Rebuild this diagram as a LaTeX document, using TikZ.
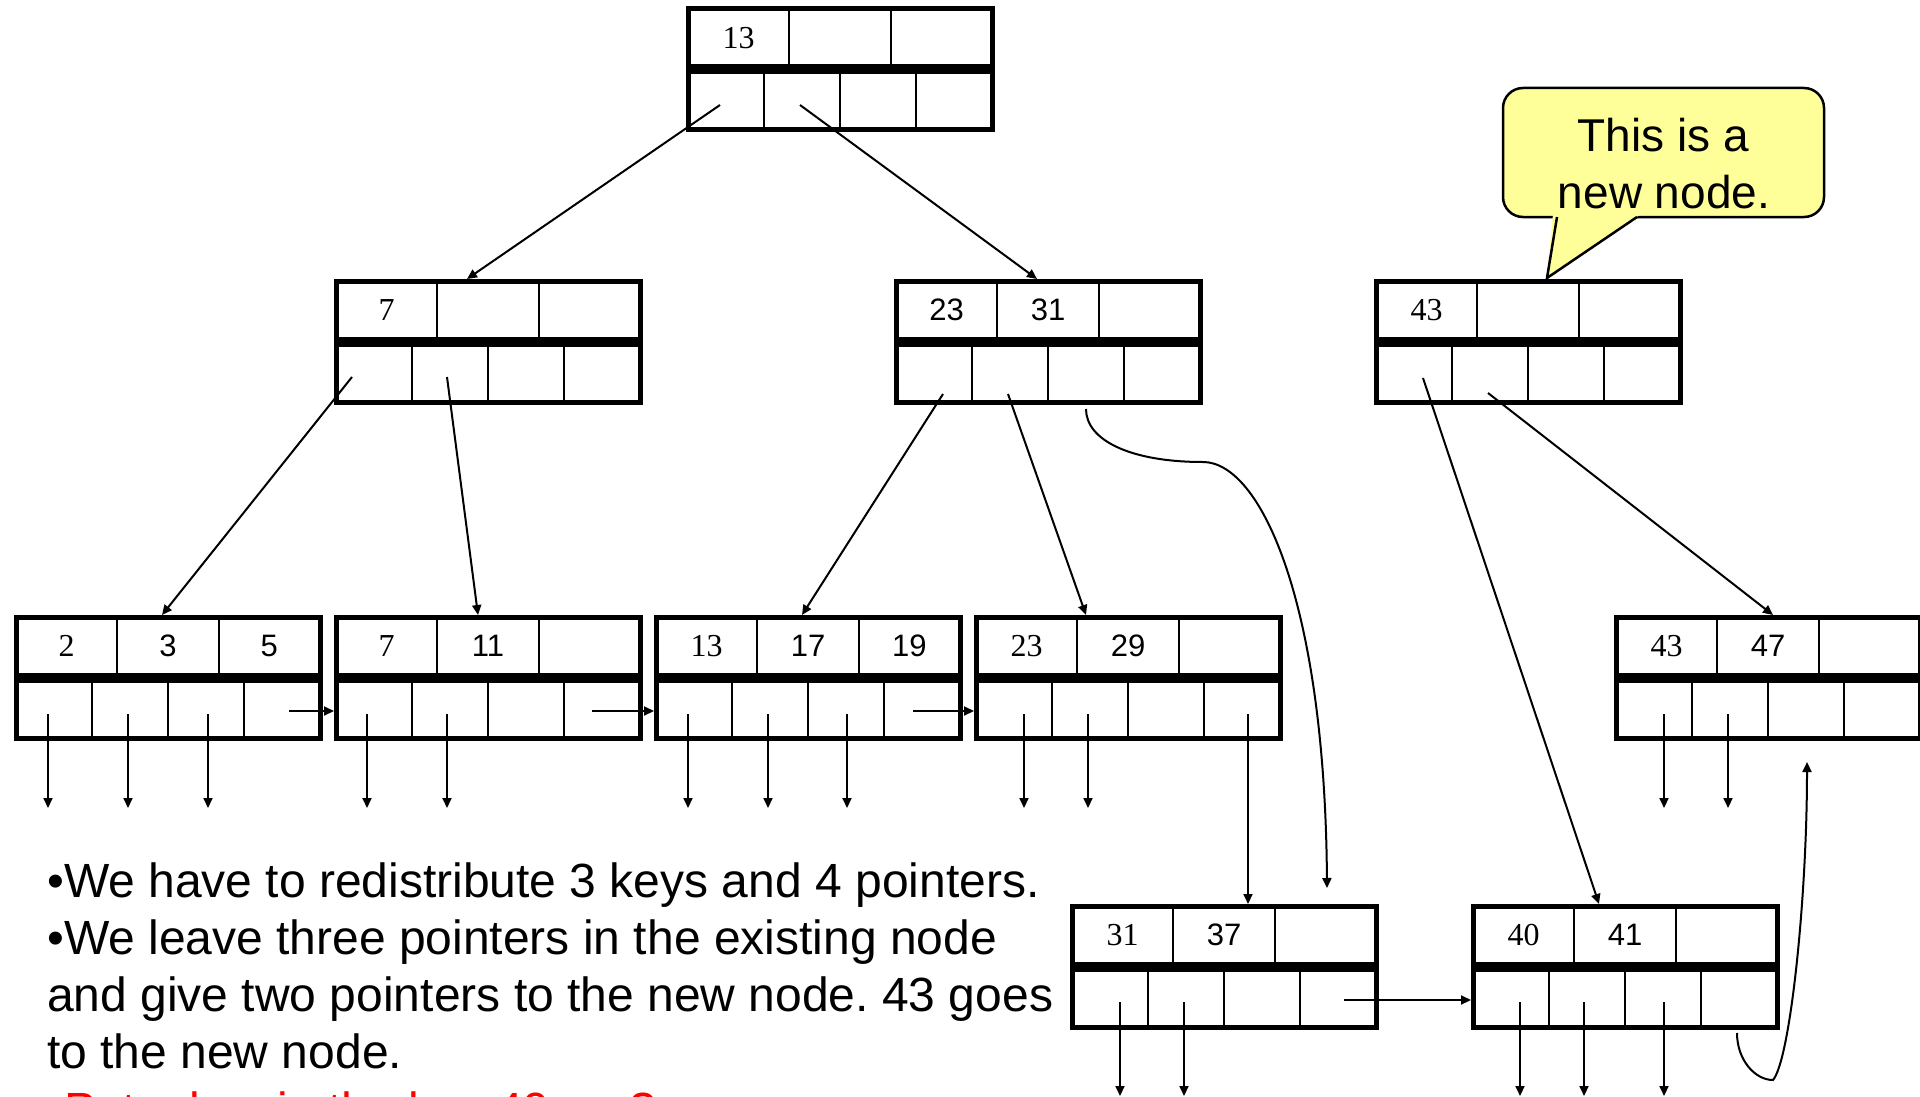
\documentclass[tikz,border=0pt]{standalone}
\usepackage{fontspec}
\setmainfont{Liberation Serif}
\setsansfont{Liberation Sans}
\usetikzlibrary{arrows.meta}
\frenchspacing
\definecolor{callyellow}{RGB}{255,255,153}
\tikzset{
  keyrow/.style={draw, line width=5pt, minimum width=304pt, minimum height=58pt, inner sep=0pt, outer sep=0pt},
  divider/.style={line width=2pt},
  kT/.style={font=\fontsize{32}{38}\selectfont, inner sep=0pt},
  kS/.style={font=\sffamily\fontsize{31}{37}\selectfont, inner sep=0pt},
  ptr/.style={line width=2pt, -{Triangle[length=10pt,width=9pt]}},
  body/.style={font=\sffamily\fontsize{48}{57.5}\selectfont, anchor=base west, inner sep=0pt},
  callbox/.style={draw, line width=2.5pt, fill=callyellow, rounded corners=20pt, minimum width=321pt, minimum height=129pt, inner sep=0pt},
  calltext/.style={font=\sffamily\fontsize{46}{55}\selectfont, anchor=base, inner sep=0pt}
}
\newcommand{\bpnode}[3]{%
  \draw[divider] (#2+101.33,#3) -- (#2+101.33,#3+58)
                 (#2+202.67,#3) -- (#2+202.67,#3+58)
                 (#2+76,#3+63) -- (#2+76,#3+121)
                 (#2+152,#3+63) -- (#2+152,#3+121)
                 (#2+228,#3+63) -- (#2+228,#3+121);
  \node[keyrow] (#1) at (#2+152,#3+29) {};
  \node[keyrow] (#1-b) at (#2+152,#3+92) {};
}
\begin{document}
\begin{tikzpicture}[x=1pt,y=-1pt]
\fill[white] (0,0) rectangle (1920,1097);
\useasboundingbox (0,0) rectangle (1920,1097);

% tree nodes
\bpnode{R}{688}{9}
\bpnode{A}{336}{281}
\bpnode{B}{896}{281}
\bpnode{C}{1376}{281}
\bpnode{L1}{16}{617}
\bpnode{L2}{336}{617}
\bpnode{L3}{656}{617}
\bpnode{L4}{976}{617}
\bpnode{L5}{1616}{617}
\bpnode{L6}{1072}{906}
\bpnode{L7}{1473}{906}

% keys
\node[kT] (R-k1) at ([xshift=50.67pt]R.west) {13};
\node[kT] (A-k1) at ([xshift=50.67pt]A.west) {7};
\node[kS] (B-k1) at ([xshift=50.67pt]B.west) {23};
\node[kS] (B-k2) at (B.center) {31};
\node[kT] (C-k1) at ([xshift=50.67pt]C.west) {43};
\node[kT] (L1-k1) at ([xshift=50.67pt]L1.west) {2};
\node[kS] (L1-k2) at (L1.center) {3};
\node[kS] (L1-k3) at ([xshift=-50.67pt]L1.east) {5};
\node[kT] (L2-k1) at ([xshift=50.67pt]L2.west) {7};
\node[kS] (L2-k2) at (L2.center) {11};
\node[kT] (L3-k1) at ([xshift=50.67pt]L3.west) {13};
\node[kS] (L3-k2) at (L3.center) {17};
\node[kS] (L3-k3) at ([xshift=-50.67pt]L3.east) {19};
\node[kT] (L4-k1) at ([xshift=50.67pt]L4.west) {23};
\node[kS] (L4-k2) at (L4.center) {29};
\node[kT] (L5-k1) at ([xshift=50.67pt]L5.west) {43};
\node[kS] (L5-k2) at (L5.center) {47};
\node[kT] (L6-k1) at ([xshift=50.67pt]L6.west) {31};
\node[kS] (L6-k2) at (L6.center) {37};
\node[kT] (L7-k1) at ([xshift=50.67pt]L7.west) {40};
\node[kS] (L7-k2) at (L7.center) {41};

% inner pointers
\draw[ptr] ([shift={(32,96)}]R.north west) -- ([shift={(131,-2)}]A.north west);
\draw[ptr] ([shift={(112,96)}]R.north west) -- ([shift={(141,-2)}]B.north west);
\draw[ptr] ([shift={(16,96)}]A.north west) -- ([shift={(146,-2)}]L1.north west);
\draw[ptr] ([shift={(111,96)}]A.north west) -- ([shift={(142,-2)}]L2.north west);
\draw[ptr] ([shift={(47,113)}]B.north west) -- ([shift={(146,-2)}]L3.north west);
\draw[ptr] ([shift={(112,113)}]B.north west) -- ([shift={(110,-2)}]L4.north west);
\draw[ptr] ([shift={(47,97)}]C.north west) -- ([shift={(126,-2)}]L7.north west);
\draw[ptr] ([shift={(112,112)}]C.north west) -- ([shift={(157,-2)}]L5.north west);

% free ends of the curved pointers
\coordinate (Bfree) at (1327,888);
\coordinate (L5free) at (1807,762);
\draw[ptr] ([shift={(190,128)}]B.north west) .. controls +(0,31) and (1130,462) .. (1203,462)
           .. controls (1260,462) and (1325,600) .. (Bfree);
\draw[ptr] ([shift={(264,127)}]L7.north west) .. controls +(0,27) and (1755,1080) .. (1773,1080)
           .. controls (1790,1060) and (1807,900) .. (L5free);

% leaf pointers down
\foreach \n/\dx in {L1/32, L1/112, L1/192, L2/31, L2/111, L3/32, L3/112, L3/191, L4/48, L4/112, L5/48, L5/112}
  \draw[ptr] ([shift={(\dx,97)}]\n.north west) -- ++(0,94);
\foreach \n/\dx in {L6/48, L6/112, L7/47, L7/111, L7/191}
  \draw[ptr] ([shift={(\dx,96)}]\n.north west) -- ++(0,94);

% leaf links
\draw[ptr] ([shift={(273,94)}]L1.north west) -- ([shift={(-2,94)}]L2.north west);
\draw[ptr] ([shift={(256,94)}]L2.north west) -- ([shift={(-2,94)}]L3.north west);
\draw[ptr] ([shift={(257,94)}]L3.north west) -- ([shift={(-2,94)}]L4.north west);
\draw[ptr] ([shift={(272,97)}]L4.north west) -- ([shift={(176,-2)}]L6.north west);
\draw[ptr] ([shift={(272,94)}]L6.north west) -- ([shift={(-2,94)}]L7.north west);

% callout
\node[callbox] (note) at (1663.5,152.5) {};
\fill[callyellow] (1553,214) -- (1547,277) -- (1641,214) -- cycle;
\draw[line width=2.5pt, line join=miter] (1557,217) -- (1547,278) -- (1637,217);
\node[calltext] (note1) at (1663,152) {This is a};
\node[calltext] (note2) at (1664,208) {new node.};

% text
\node[body] (t1) at (47,897) {•We have to redistribute 3 keys and 4 pointers.};
\node[body] (t2) at (47,954.3) {•We leave three pointers in the existing node};
\node[body] (t3) at (47,1011.6) {and give two pointers to the new node. 43 goes};
\node[body] (t4) at (47,1068.9) {to the new node.};
\node[body, text=red] (t5) at (47,1126.2) {•Put a key in the key 40 go ?};
\end{tikzpicture}
\end{document}
